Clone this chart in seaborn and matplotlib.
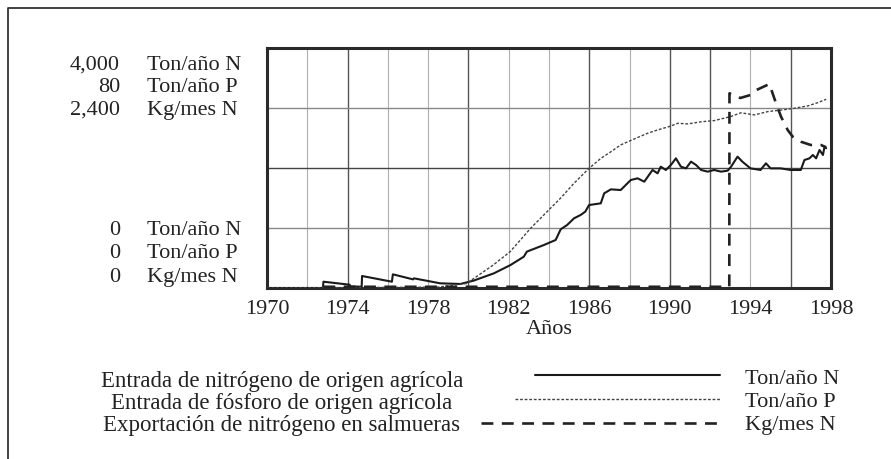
import matplotlib
matplotlib.use("Agg")
import matplotlib.pyplot as plt
import seaborn as sns

# Valores (años, valor)
n_years = [1970, 1972.78, 1972.8, 1974.1, 1974.15, 1974.7, 1974.72, 1976.2, 1976.25,
           1977.25, 1977.3, 1978.6, 1979.6, 1980.25, 1981.26, 1982.09, 1982.75, 1982.9,
           1983.75, 1984.33, 1984.58, 1984.9, 1985.24, 1985.57, 1985.8, 1985.99, 1986.57,
           1986.74, 1987.07, 1987.56, 1988.06, 1988.4, 1988.73, 1989.14, 1989.39, 1989.55,
           1989.8, 1990.05, 1990.3, 1990.55, 1990.8, 1991.05, 1991.3, 1991.55, 1991.88,
           1992.2, 1992.54, 1992.87, 1993.04, 1993.2, 1993.36, 1993.6, 1994.0, 1994.5,
           1994.77, 1995.0, 1995.5, 1996.0, 1996.5, 1996.68, 1996.93, 1997.1, 1997.26,
           1997.43, 1997.6, 1997.68, 1997.76]
n_values = [0, 0, 105, 55, 25, 22, 200, 105, 228,
            144, 161, 78, 67, 122, 244, 383, 522, 606,
            717, 800, 978, 1050, 1161, 1217, 1272, 1383, 1411,
            1578, 1644, 1633, 1800, 1828, 1772, 1967, 1911, 2022,
            1967, 2050, 2161, 2022, 1994, 2106, 2050, 1967, 1939,
            1967, 1939, 1956, 2022, 2106, 2189, 2106, 1994, 1967,
            2078, 1994, 1994, 1967, 1967, 2133, 2161, 2217, 2161,
            2300, 2217, 2356, 2330]

p_years = [1970, 1978.5, 1979.3, 1979.9, 1980.4, 1981.24, 1982.07, 1983.1, 1984.58,
           1985.24, 1985.99, 1986.57, 1987.07, 1987.56, 1988.0, 1988.9, 1989.4, 1989.96,
           1990.4, 1990.9, 1991.54, 1992.2, 1993.0, 1993.53, 1994.2, 1994.86, 1995.5,
           1996.18, 1996.85, 1997.35, 1997.76]
p_values = [0, 0.3, 1.0, 1.5, 3.8, 7.7, 12.1, 20, 30,
            34.9, 39.9, 43.2, 45.4, 47.7, 49, 51.6, 52.7, 53.8,
            54.9, 54.7, 55.4, 55.8, 57.1, 58.4, 57.7, 58.8, 59.3,
            59.9, 60.7, 61.8, 62.9]

s_years = [1972.8, 1992.95, 1992.96, 1993.5, 1994.0, 1994.3, 1994.94, 1995.1, 1995.27,
           1995.52, 1995.85, 1996.1, 1996.5, 1997.0, 1997.5, 1997.76]
s_values = [12, 12, 1947, 1900, 1930, 1980, 2040, 1947, 1847,
            1713, 1580, 1513, 1463, 1430, 1430, 1407]

x_ticks = [1970, 1974, 1978, 1982, 1986, 1990, 1994, 1998]
top_values = ["4,000", "80", "2,400"]
bottom_values = ["0", "0", "0"]
units = ["Ton/año N", "Ton/año P", "Kg/mes N"]
legend_labels = ["Entrada de nitrógeno de origen agrícola",
                 "Entrada de fósforo de origen agrícola",
                 "Exportación de nitrógeno en salmueras"]

sns.set_style("white")
plt.rcParams["font.family"] = ["Liberation Serif", "DejaVu Serif"]
plt.rcParams["text.color"] = "#222222"

W, H = 891, 459
fig = plt.figure(figsize=(W / 100, H / 100), dpi=100)
fig.patch.set_facecolor("white")

# area del grafico en pixeles
left, right, top, bottom = 267, 831, 48, 288
ax = fig.add_axes([left / W, 1 - bottom / H, (right - left) / W, (bottom - top) / H])
ax.set_xlim(1970, 1998)
ax.set_ylim(0, 4000)

# rejilla: cada 2 años, algunas lineas mas oscuras
dark_years = [1974, 1980, 1986, 1990, 1992, 1996]
for yr in range(1972, 1998, 2):
    if yr in dark_years:
        ax.axvline(yr, color="#555555", lw=1.0, zorder=0.5)
    else:
        ax.axvline(yr, color="#b0b0b0", lw=0.8, zorder=0.5)
for val, col in [(1000, "#888888"), (2000, "#444444"), (3000, "#888888")]:
    ax.axhline(val, color=col, lw=1.0, zorder=0.5)

sns.lineplot(x=n_years, y=n_values, ax=ax, estimator=None, sort=False,
             color="#1a1a1a", lw=1.5, zorder=3)

ax_p = ax.twinx()
ax_p.set_ylim(0, 80)
ax_p.axis("off")
sns.lineplot(x=p_years, y=p_values, ax=ax_p, estimator=None, sort=False,
             color="#444444", lw=1.0, linestyle=(0, (2, 1.3)))

ax_s = ax.twinx()
ax_s.set_ylim(0, 2400)
ax_s.axis("off")
sns.lineplot(x=s_years, y=s_values, ax=ax_s, estimator=None, sort=False,
             color="#222222", lw=1.9, linestyle=(0, (4.5, 3.2)))
ax_s.set_xlim(1970, 1998)
ax_p.set_xlim(1970, 1998)

for sp in ax.spines.values():
    sp.set_visible(True)
    sp.set_color("#2a2a2a")
    sp.set_linewidth(2.2)

ax.set_yticks([])
ax.set_xticks(x_ticks)
ax.tick_params(axis="x", length=0, pad=8.6, labelsize=16, labelcolor="#222222")
ax.set_xlabel("Años", fontsize=16, labelpad=1, color="#222222")
ax.set_ylabel("")

# capa en pixeles para textos de ejes, leyenda y marco
ov = fig.add_axes([0, 0, 1, 1], zorder=-1)
ov.set_xlim(0, W)
ov.set_ylim(H, 0)
ov.axis("off")
ov.plot([8, 8, W + 5], [H + 5, 8, 8], color="#333333", lw=1.3)

for i, (tv, bv, u) in enumerate(zip(top_values, bottom_values, units)):
    ov.text(120, 70 + 22.5 * i, tv, ha="right", va="baseline", fontsize=16)
    ov.text(147, 70 + 22.5 * i, u, ha="left", va="baseline", fontsize=16)
    ov.text(120, 235 + 23.5 * i, bv, ha="right", va="baseline", fontsize=16)
    ov.text(147, 235 + 23.5 * i, u, ha="left", va="baseline", fontsize=16)

# leyenda
leg_styles = [dict(color="#1a1a1a", lw=1.5, linestyle="-"),
              dict(color="#444444", lw=1.0, linestyle=(0, (2, 1.3))),
              dict(color="#222222", lw=1.9, linestyle=(0, (4.5, 3.2)))]
leg_x0 = [535, 515, 481]
for i, (lab, u, st) in enumerate(zip(legend_labels, units, leg_styles)):
    ov.text(282, 386.5 + 22.3 * i, lab, ha="center", va="baseline", fontsize=16.5)
    ov.plot([leg_x0[i], 720], [375 + 24 * i] * 2, **st)
    ov.text(745, 383.5 + 23.3 * i, u, ha="left", va="baseline", fontsize=16)

fig.savefig("out.png", dpi=100)
